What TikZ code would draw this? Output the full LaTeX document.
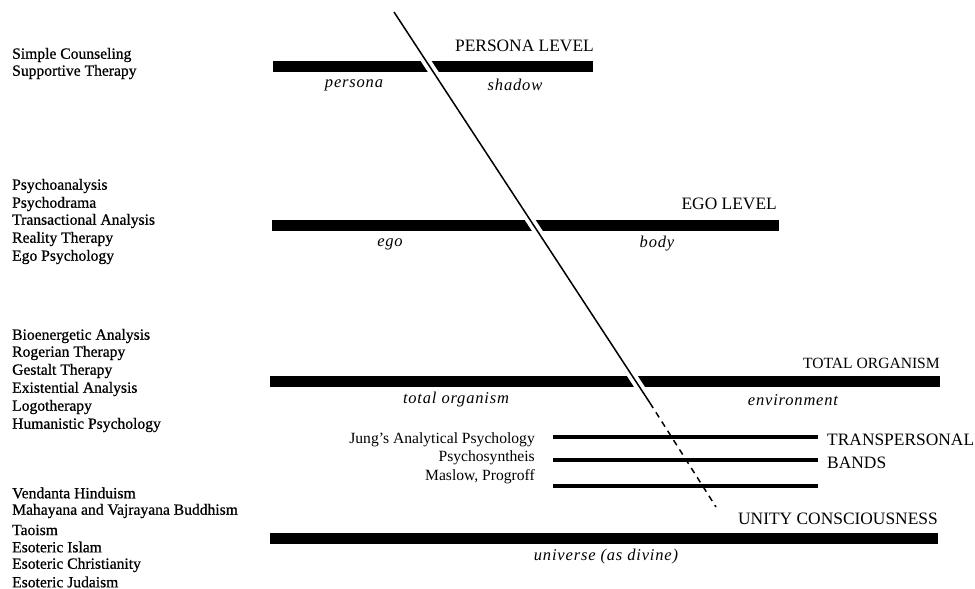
\documentclass[tikz,border=0pt]{standalone}
\usepackage{fontspec}
\setmainfont{Liberation Serif}
\newfontfamily\listfont[FakeBold=0.7]{Liberation Serif}
\newfontfamily\polefont[LetterSpace=5]{Liberation Serif}
\begin{document}
\begin{tikzpicture}[x=1pt,y=-1pt,
  list/.style={anchor=west, inner sep=0pt, font=\listfont\fontsize{15.6}{17}\selectfont},
  level/.style={anchor=east, inner sep=0pt, font=\fontsize{17.4}{19}\selectfont},
  pole/.style={anchor=center, inner sep=0pt, font=\polefont\fontsize{16.5}{18}\selectfont\itshape},
  school/.style={anchor=east, inner sep=0pt, font=\fontsize{15.6}{17}\selectfont},
  thickbar/.style={fill=black},
  band/.style={line width=3.8pt},
]
\useasboundingbox (0,0) rectangle (975,589);

% ---- therapies listed per level ----
\node[list] (t1) at (12,55) {Simple Counseling};
\node[list] (t2) at (12,72) {Supportive Therapy};

\node[list] (e1) at (12,186) {Psychoanalysis};
\node[list] (e2) at (12,204) {Psychodrama};
\node[list] (e3) at (12,221) {Transactional Analysis};
\node[list] (e4) at (12,239) {Reality Therapy};
\node[list] (e5) at (12,257) {Ego Psychology};

\node[list] (o1) at (12,336) {Bioenergetic Analysis};
\node[list] (o2) at (12,353) {Rogerian Therapy};
\node[list] (o3) at (12,371) {Gestalt Therapy};
\node[list] (o4) at (12,389) {Existential Analysis};
\node[list] (o5) at (12,407) {Logotherapy};
\node[list] (o6) at (12,425) {Humanistic Psychology};

\node[list] (u1) at (12,493) {Vendanta Hinduism};
\node[list] (u2) at (12,511) {Mahayana and Vajrayana Buddhism};
\node[list] (u3) at (12,530) {Taoism};
\node[list] (u4) at (12,547) {Esoteric Islam};
\node[list] (u5) at (12,565) {Esoteric Christianity};
\node[list] (u6) at (12,582) {Esoteric Judaism};

% ---- level bars ----
\fill[thickbar] (273,60.5) rectangle (593,71.5);
\fill[thickbar] (272,219.5) rectangle (779,230.5);
\fill[thickbar] (270,375.5) rectangle (940,386.5);
\fill[thickbar] (270,532.5) rectangle (938,543.5);

% ---- level titles ----
\node[level] (lp) at (594,46) {PERSONA LEVEL};
\node[level] (le) at (777,204) {EGO LEVEL};
\node[level, font=\fontsize{15.6}{18}\selectfont] (lo) at (940,363) {TOTAL ORGANISM};
\node[level] (lu) at (938,519) {UNITY CONSCIOUSNESS};

% ---- poles of each boundary ----
\node[pole] (p1) at (354,85) {persona};
\node[pole] (p2) at (515,85) {shadow};
\node[pole] (p3) at (390,244) {ego};
\node[pole] (p4) at (657,244) {body};
\node[pole] (p5) at (456,400) {total organism};
\node[pole] (p6) at (793,400) {environment};
\node[pole] (p7) at (606,557) {universe (as divine)};

% ---- transpersonal bands ----
\draw[band] (553,437) -- (818,437);
\draw[band] (553,460) -- (818,460);
\draw[band] (553,486) -- (818,486);
\node[school] (s1) at (535,440) {Jung's Analytical Psychology};
\node[school] (s2) at (535,458) {Psychosyntheis};
\node[school] (s3) at (535,477) {Maslow, Progroff};
\node[level, anchor=west] (tb1) at (827,440) {TRANSPERSONAL};
\node[level, anchor=west] (tb2) at (827,463) {BANDS};

% ---- the boundary line cutting through the levels ----
\coordinate (top) at (394,12);
\coordinate (bend) at (650,403);
\coordinate (bottom) at (716,507);
\draw[white, line width=9pt] (top) -- (bend);
\draw[line width=1.5pt] (top) -- (bend);
\draw[line width=1.5pt, dash pattern=on 6pt off 5pt] (bend) -- (bottom);
\end{tikzpicture}
\end{document}
